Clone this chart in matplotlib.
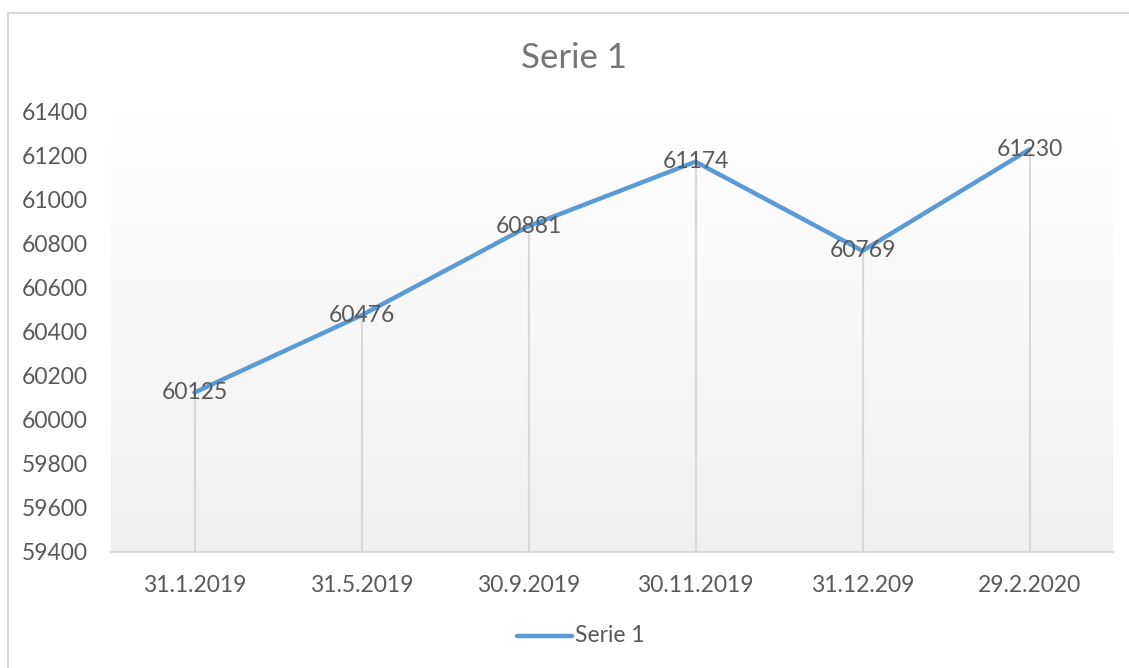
import matplotlib
matplotlib.use("Agg")
import matplotlib.pyplot as plt
import numpy as np
from matplotlib.lines import Line2D

categories = ["31.1.2019", "31.5.2019", "30.9.2019", "30.11.2019", "31.12.209", "29.2.2020"]
values = [60125, 60476, 60881, 61174, 60769, 61230]
yticks = [59400, 59600, 59800, 60000, 60200, 60400, 60600, 60800, 61000, 61200, 61400]
series_name = "Serie 1"

plt.rcParams['font.family'] = ['Lato', 'DejaVu Sans']
text_col = '#595959'
line_col = '#5b9bd5'
grid_col = '#d9d9d9'
fs = 16.5

fig = plt.figure(figsize=(11.29, 6.68), dpi=100)
ax = fig.add_axes([111/1129, 116/668, (1113-111)/1129, (552-112)/668])

x = np.arange(len(categories))
ax.set_xlim(-0.5, len(categories) - 0.5)
ax.set_ylim(yticks[0], yticks[-1])

# gradient background (white top -> light gray bottom)
t = np.linspace(0.0, 1.0, 256)
top = np.array([1.0, 1.0, 1.0])
bot = np.array([0.94, 0.94, 0.94])
cols = (top[None, :] * (1 - t[:, None]) + bot[None, :] * t[:, None]).reshape(256, 1, 3)
ax.imshow(cols, extent=[0, 1, 0, 1], transform=ax.transAxes, aspect='auto', zorder=0)

# drop lines
ax.vlines(x, yticks[0], values, colors=grid_col, linewidth=1.5, zorder=1)

ax.plot(x, values, color=line_col, linewidth=3.2, solid_capstyle='round', zorder=2)

for xi, v in zip(x, values):
    ax.text(xi, v, str(v), ha='center', va='center', fontsize=fs, color=text_col, zorder=3)

ax.set_xticks(x)
ax.set_xticklabels(categories)
ax.set_yticks(yticks)
ax.set_yticklabels([str(v) for v in yticks])
ax.tick_params(axis='both', length=0, labelsize=fs, labelcolor=text_col)
ax.tick_params(axis='x', pad=16.5)
ax.tick_params(axis='y', pad=16.5)
for s in ['top', 'right', 'left']:
    ax.spines[s].set_visible(False)
ax.spines['bottom'].set_color(grid_col)
ax.spines['bottom'].set_linewidth(1.5)

fig.text(574/1129, 1 - 68/668, series_name, ha='center', va='baseline', fontsize=25, color='#757575')

# chart border (top and left visible)
fig.add_artist(Line2D([8/1129, 8/1129], [0, 1 - 13/668], color=grid_col, linewidth=1.5, transform=fig.transFigure))
fig.add_artist(Line2D([8/1129, 1], [1 - 13/668, 1 - 13/668], color=grid_col, linewidth=1.5, transform=fig.transFigure))

# legend
ly = 1 - 636/668
fig.add_artist(Line2D([517/1129, 572/1129], [ly, ly], color=line_col, linewidth=3.2, solid_capstyle='round', transform=fig.transFigure))
fig.text(575/1129, ly, series_name, ha='left', va='center', fontsize=fs, color=text_col)

fig.savefig("out.png", dpi=100, facecolor='white')
